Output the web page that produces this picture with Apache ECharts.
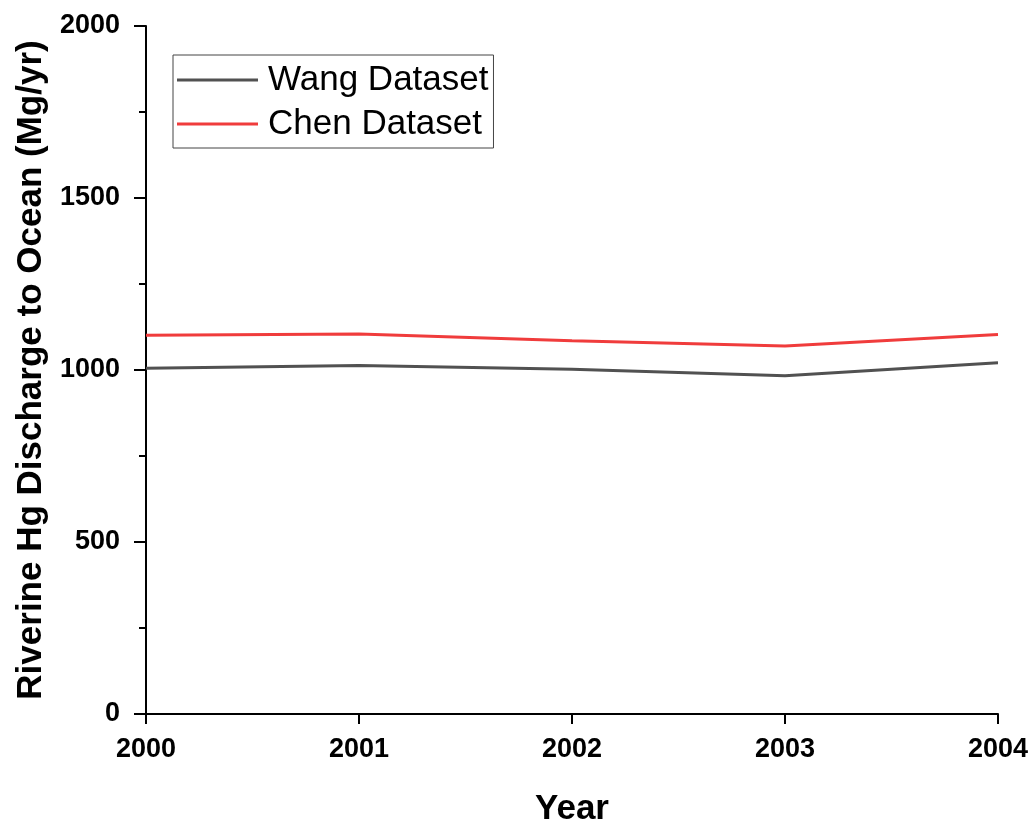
<!DOCTYPE html>
<html>
<head>
<meta charset="utf-8">
<script src="https://cdn.jsdelivr.net/npm/echarts@6/dist/echarts.min.js"></script>
<style>html,body{margin:0;padding:0;background:#fff}#c{width:1034px;height:823px}</style>
</head>
<body>
<div id="c"></div>
<script>
const years = ['2000', '2001', '2002', '2003', '2004'];
const wangValues = [1005, 1013, 1002, 983, 1021];
const chenValues = [1101, 1105, 1085, 1070, 1103];
const seriesNames = ['Wang Dataset', 'Chen Dataset'];
const xTitle = 'Year';
const yTitle = 'Riverine Hg Discharge to Ocean (Mg/yr)';

const FONT = '"Liberation Sans", Arial, sans-serif';
const chart = echarts.init(document.getElementById('c'), null, {renderer: 'canvas'});
chart.setOption({
  animation: false,
  backgroundColor: '#fff',
  grid: {left: 146, right: 36, top: 26, bottom: 109, containLabel: false, outerBoundsMode: 'none'},
  legend: {
    orient: 'vertical', left: 173, top: 55,
    icon: 'rect',
    itemWidth: 81, itemHeight: 3, itemGap: 8,
    padding: [7, 5, 6, 4],
    borderColor: '#444', borderWidth: 1,
    textStyle: {fontFamily: FONT, fontSize: 35, color: '#000', lineHeight: 36, padding: [0, 0, 0, 5]},
    data: seriesNames
  },
  xAxis: {
    type: 'category', data: years, boundaryGap: false,
    name: xTitle, nameLocation: 'middle', nameGap: 78,
    nameTextStyle: {fontFamily: FONT, fontSize: 35, fontWeight: 'bold', color: '#000'},
    axisLine: {lineStyle: {color: '#000', width: 2}},
    axisTick: {show: true, inside: false, length: 10, alignWithLabel: true, lineStyle: {color: '#000', width: 2}},
    axisLabel: {fontFamily: FONT, fontSize: 27, fontWeight: 'bold', color: '#000', margin: 22},
    splitLine: {show: false}
  },
  yAxis: {
    type: 'value', min: 0, max: 2000, interval: 500,
    name: yTitle, nameLocation: 'middle', nameGap: 92,
    nameTextStyle: {fontFamily: FONT, fontSize: 35, fontWeight: 'bold', color: '#000'},
    axisLine: {show: true, lineStyle: {color: '#000', width: 2}},
    axisTick: {show: true, inside: false, length: 12, lineStyle: {color: '#000', width: 2}},
    minorTick: {show: true, splitNumber: 2, length: 7, lineStyle: {color: '#000', width: 2}},
    axisLabel: {fontFamily: FONT, fontSize: 27, fontWeight: 'bold', color: '#000', margin: 26,
                formatter: function (v) { return String(v); }},
    splitLine: {show: false}
  },
  series: [
    {name: seriesNames[0], type: 'line', data: wangValues, symbol: 'none',
     lineStyle: {color: '#515151', width: 3}, itemStyle: {color: '#515151'}},
    {name: seriesNames[1], type: 'line', data: chenValues, symbol: 'none',
     lineStyle: {color: '#f03c3c', width: 3}, itemStyle: {color: '#f03c3c'}}
  ]
});
</script>
</body>
</html>
